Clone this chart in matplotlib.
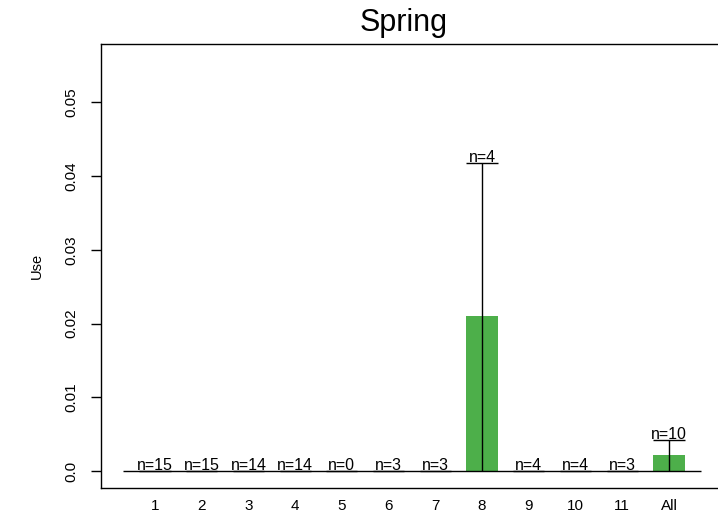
import matplotlib
matplotlib.use("Agg")
import matplotlib.pyplot as plt
import numpy as np

categories = ["1", "2", "3", "4", "5", "6", "7", "8", "9", "10", "11", "All"]
use_mean = [0, 0, 0, 0, 0, 0, 0, 0.021, 0, 0, 0, 0.0022]
use_lower = [0, 0, 0, 0, 0, 0, 0, 0.0, 0, 0, 0, 0.0]
use_upper = [0, 0, 0, 0, 0, 0, 0, 0.0417, 0, 0, 0, 0.0042]
n_obs = [15, 15, 14, 14, 0, 3, 3, 4, 4, 4, 3, 10]
title = "Spring"
y_ticks = [0.0, 0.01, 0.02, 0.03, 0.04, 0.05]
y_tick_labels = ["0.0", "0.01", "0.02", "0.03", "0.04", "0.05"]

plt.rcParams['font.family'] = ['Liberation Sans', 'DejaVu Sans']

fig = plt.figure(figsize=(7.18, 5.18), dpi=100)
ax = fig.add_axes([101/718, 1 - 488/518, 1 - 101/718, (488 - 44)/518])

x = np.arange(len(categories))
bw = 0.667
ax.bar(x, use_mean, width=bw, color="#4daf4a", edgecolor="none", zorder=2)
ax.hlines(0, -0.69, len(categories) - 1 + 0.69, color="black", lw=1.0, zorder=3)

for xi, lo, hi, n in zip(x, use_lower, use_upper, n_obs):
    ax.vlines(xi, lo, hi, color="black", lw=1.0, zorder=3)
    ax.hlines(hi, xi - bw/2, xi + bw/2, color="black", lw=1.0, zorder=3)
    ax.annotate(f"n={n}", (xi, hi), xytext=(0, 1), textcoords="offset points",
                ha="center", va="baseline", fontsize=11.5)

ax.set_xlim(-1.156, 12.05)
ax.set_ylim(-0.0023, 0.0579)
ax.set_xticks(x)
ax.set_xticklabels(categories, fontsize=11)
ax.tick_params(axis="x", length=0, pad=8)
ax.set_yticks(y_ticks)
ax.set_yticklabels(y_tick_labels, fontsize=11, rotation=90, va="center")
ax.tick_params(axis="y", length=7, width=1.0, pad=9)
ax.spines["right"].set_visible(False)
for s in ["left", "top", "bottom"]:
    ax.spines[s].set_linewidth(1.0)
ax.set_ylabel("Use", fontsize=10.5, labelpad=15)
ax.set_title(title, fontsize=22, pad=9, x=0.491)

fig.savefig("out.png", dpi=100)
